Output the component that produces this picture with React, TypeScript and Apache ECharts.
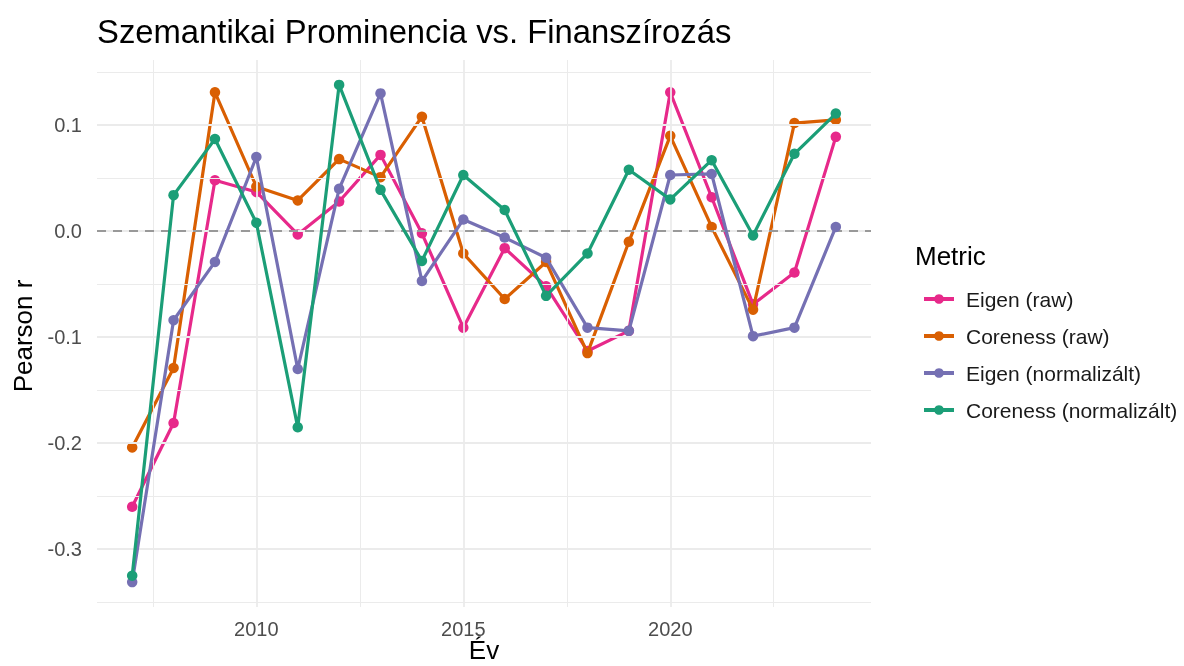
import React, { useEffect, useRef } from "react";
import * as echarts from "echarts";

const years = [2007, 2008, 2009, 2010, 2011, 2012, 2013, 2014, 2015, 2016, 2017, 2018, 2019, 2020, 2021, 2022, 2023, 2024];
const eigenRaw = [-0.260, -0.181, 0.048, 0.037, -0.003, 0.028, 0.072, -0.002, -0.091, -0.016, -0.052, -0.113, -0.094, 0.131, 0.032, -0.069, -0.039, 0.089];
const corenessRaw = [-0.204, -0.129, 0.131, 0.042, 0.029, 0.068, 0.051, 0.108, -0.021, -0.064, -0.029, -0.115, -0.010, 0.090, 0.004, -0.074, 0.102, 0.105];
const eigenNorm = [-0.331, -0.084, -0.029, 0.070, -0.130, 0.040, 0.130, -0.047, 0.011, -0.006, -0.025, -0.091, -0.094, 0.053, 0.054, -0.099, -0.091, 0.004];
const corenessNorm = [-0.325, 0.034, 0.087, 0.008, -0.185, 0.138, 0.039, -0.028, 0.053, 0.020, -0.061, -0.021, 0.058, 0.030, 0.067, -0.004, 0.073, 0.111];

const seriesNames = ["Eigen (raw)", "Coreness (raw)", "Eigen (normalizált)", "Coreness (normalizált)"];
const seriesColors = ["#E7298A", "#D95F02", "#7570B3", "#1B9E77"];
const seriesValues = [eigenRaw, corenessRaw, eigenNorm, corenessNorm];

const xTickLabels = [2010, 2015, 2020];
const xMinorGrid = [2007.5, 2012.5, 2017.5, 2022.5];
const yTickLabels = [-0.3, -0.2, -0.1, 0, 0.1];
const yMinorGrid = [-0.35, -0.25, -0.15, -0.05, 0.05, 0.15];

const FONT = '"Liberation Sans", Arial, Helvetica, sans-serif';

export default function App() {
  const ref = useRef<HTMLDivElement>(null);

  useEffect(() => {
    if (!ref.current) return;
    const chart = echarts.init(ref.current, null, { renderer: "svg" });

    const gridLines: any[] = [];
    xTickLabels.forEach((v) => gridLines.push({ xAxis: v, lineStyle: { color: "#EBEBEB", width: 1.8, type: "solid" } }));
    xMinorGrid.forEach((v) => gridLines.push({ xAxis: v, lineStyle: { color: "#EBEBEB", width: 1, type: "solid" } }));
    yTickLabels.forEach((v) => gridLines.push({ yAxis: v, lineStyle: { color: "#EBEBEB", width: 1.8, type: "solid" } }));
    yMinorGrid.forEach((v) => gridLines.push({ yAxis: v, lineStyle: { color: "#EBEBEB", width: 1, type: "solid" } }));

    const dataSeries = seriesNames.map((name, si) => ({
      name,
      type: "line",
      data: years.map((y, i) => [y, seriesValues[si][i]]),
      symbol: "circle",
      symbolSize: 10.5,
      showSymbol: true,
      lineStyle: { width: 3.2, color: seriesColors[si] },
      itemStyle: { color: seriesColors[si] },
      emphasis: { disabled: true },
      z: 3 + si,
    }));

    chart.setOption({
      animation: false,
      grid: { left: 97, right: 313, top: 60, bottom: 59, containLabel: false },
      xAxis: {
        type: "value",
        min: 2006.15,
        max: 2024.85,
        axisLine: { show: false },
        axisTick: { show: false },
        splitLine: { show: false },
        axisLabel: {
          customValues: xTickLabels,
          color: "#4D4D4D",
          fontSize: 20,
          fontFamily: FONT,
          margin: 12,
          formatter: (v: number) => String(v),
        },
      },
      yAxis: {
        type: "value",
        min: -0.3545,
        max: 0.1615,
        axisLine: { show: false },
        axisTick: { show: false },
        splitLine: { show: false },
        axisLabel: {
          customValues: yTickLabels,
          color: "#4D4D4D",
          fontSize: 20,
          fontFamily: FONT,
          margin: 15,
          formatter: (v: number) => (Math.abs(v) < 1e-9 ? "0.0" : v.toFixed(1)),
        },
      },
      legend: {
        orient: "vertical",
        left: 917,
        top: 282,
        itemWidth: 30,
        itemHeight: 12,
        itemGap: 13,
        data: seriesNames,
        itemStyle: { borderWidth: 0 },
        lineStyle: { width: 4 },
        textStyle: { fontSize: 21, lineHeight: 24, color: "#1A1A1A", fontFamily: FONT, padding: [0, 0, 0, 7] },
      },
      graphic: [
        { type: "text", x: 97, y: 31, style: { text: "Szemantikai Prominencia vs. Finanszírozás", fontSize: 32.8, fontFamily: FONT, fill: "#000", verticalAlign: "middle", align: "left" } },
        { type: "text", x: 915, y: 256, style: { text: "Metric", fontSize: 26, fontFamily: FONT, fill: "#000", verticalAlign: "middle", align: "left" } },
        { type: "text", x: 23, y: 336, rotation: Math.PI / 2, style: { text: "Pearson r", fontSize: 26, fontFamily: FONT, fill: "#000", verticalAlign: "middle", align: "center" } },
        { type: "text", x: 484, y: 650, style: { text: "Év", fontSize: 26, fontFamily: FONT, fill: "#000", verticalAlign: "middle", align: "center" } },
      ],
      series: [
        {
          name: "__grid",
          type: "line",
          data: [],
          z: 1,
          silent: true,
          markLine: { silent: true, symbol: ["none", "none"], label: { show: false }, emphasis: { disabled: true }, data: gridLines },
        },
        {
          name: "__zero",
          type: "line",
          data: [],
          z: 2,
          silent: true,
          markLine: {
            silent: true,
            symbol: ["none", "none"],
            label: { show: false },
            emphasis: { disabled: true },
            data: [{ yAxis: 0, lineStyle: { color: "#999999", width: 2, type: [9, 7] } }],
          },
        },
        ...dataSeries,
      ],
    });

    return () => chart.dispose();
  }, []);

  return <div ref={ref} style={{ position: "fixed", left: 0, top: 0, width: 1184, height: 666 }} />;
}
